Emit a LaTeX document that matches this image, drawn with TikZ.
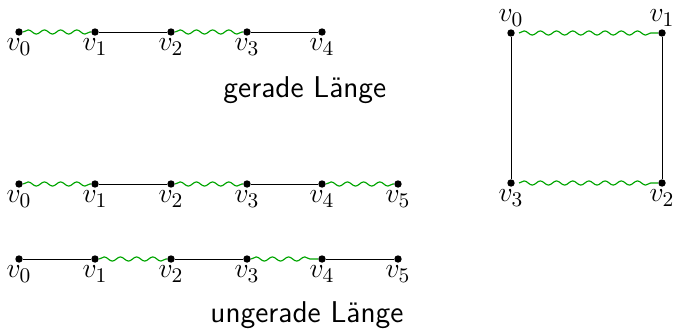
\documentclass[tikz,border=0pt]{standalone}
\usepackage{tikz}
\usetikzlibrary{decorations.pathmorphing, positioning}
\definecolor{MatchGreen}{RGB}{0, 165, 0}

\tikzset{
  vertex/.style={circle, fill=black, inner sep=0pt, minimum size=3.2pt},
  vlabel/.style={inner sep=1pt},
  plainedge/.style={draw=black, line width=0.4pt},
  matchedge/.style={draw=MatchGreen, line width=0.5pt, decorate,
    decoration={snake, amplitude=0.9pt, segment length=7pt}},
  caption/.style={font=\sffamily, anchor=west}
}

\begin{document}
\fontsize{13}{16}\selectfont
\begin{tikzpicture}[x=0.0152cm, y=-0.0152cm]
  \useasboundingbox (0,0) rectangle (674,329);

  % Pfad gerader Laenge
  \node[vertex, label={[vlabel]below:$v_0$}] (a0) at (19, 32) {};
  \node[vertex, label={[vlabel]below:$v_1$}] (a1) at (95, 32) {};
  \node[vertex, label={[vlabel]below:$v_2$}] (a2) at (171, 32) {};
  \node[vertex, label={[vlabel]below:$v_3$}] (a3) at (247, 32) {};
  \node[vertex, label={[vlabel]below:$v_4$}] (a4) at (322, 32) {};
  \path[matchedge] (a0) -- (a1);
  \path[plainedge] (a1) -- (a2);
  \path[matchedge] (a2) -- (a3);
  \path[plainedge] (a3) -- (a4);
  \node[caption] (even) at (213, 90) {gerade Länge};

  % Pfad ungerader Laenge, erstes Matching
  \node[vertex, label={[vlabel]below:$v_0$}] (b0) at (19, 184) {};
  \node[vertex, label={[vlabel]below:$v_1$}] (b1) at (95, 184) {};
  \node[vertex, label={[vlabel]below:$v_2$}] (b2) at (171, 184) {};
  \node[vertex, label={[vlabel]below:$v_3$}] (b3) at (247, 184) {};
  \node[vertex, label={[vlabel]below:$v_4$}] (b4) at (322, 184) {};
  \node[vertex, label={[vlabel]below:$v_5$}] (b5) at (398, 184) {};
  \path[matchedge] (b0) -- (b1);
  \path[plainedge] (b1) -- (b2);
  \path[matchedge] (b2) -- (b3);
  \path[plainedge] (b3) -- (b4);
  \path[matchedge] (b4) -- (b5);

  % Pfad ungerader Laenge, zweites Matching
  \node[vertex, label={[vlabel]below:$v_0$}] (c0) at (19, 259) {};
  \node[vertex, label={[vlabel]below:$v_1$}] (c1) at (95, 259) {};
  \node[vertex, label={[vlabel]below:$v_2$}] (c2) at (171, 259) {};
  \node[vertex, label={[vlabel]below:$v_3$}] (c3) at (247, 259) {};
  \node[vertex, label={[vlabel]below:$v_4$}] (c4) at (322, 259) {};
  \node[vertex, label={[vlabel]below:$v_5$}] (c5) at (398, 259) {};
  \path[plainedge] (c0) -- (c1);
  \path[matchedge] (c1) -- (c2);
  \path[plainedge] (c2) -- (c3);
  \path[matchedge] (c3) -- (c4);
  \path[plainedge] (c4) -- (c5);
  \node[caption] (odd) at (200, 315) {ungerade Länge};

  % Kreis
  \node[vertex, label={[vlabel]above:$v_0$}] (s0) at (511, 33) {};
  \node[vertex, label={[vlabel]above:$v_1$}] (s1) at (662, 33) {};
  \node[vertex, label={[vlabel]below:$v_2$}] (s2) at (662, 183) {};
  \node[vertex, label={[vlabel]below:$v_3$}] (s3) at (511, 183) {};
  \path[matchedge] ([xshift=3.5pt]s0.center) -- (s1);
  \path[plainedge] (s1) -- (s2);
  \path[matchedge] ([xshift=3.5pt]s3.center) -- (s2);
  \path[plainedge] (s3) -- (s0);
\end{tikzpicture}
\end{document}
